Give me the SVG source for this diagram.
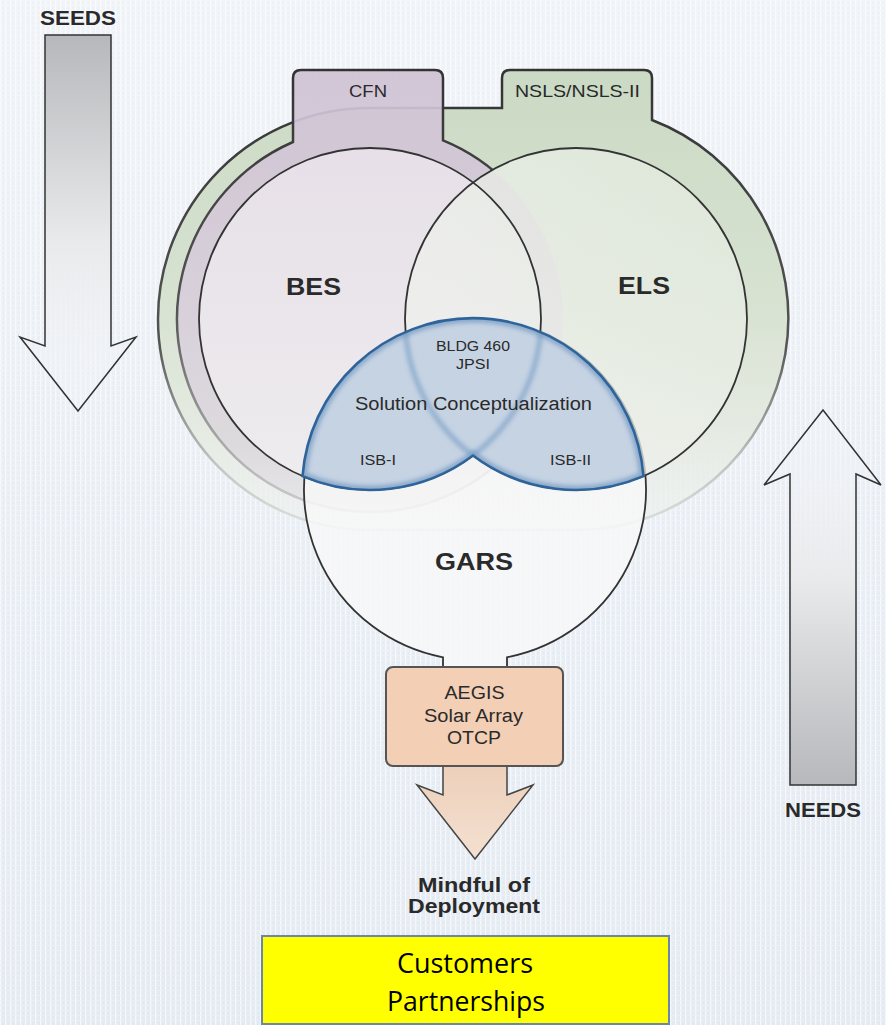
<svg xmlns="http://www.w3.org/2000/svg" width="886" height="1025" viewBox="0 0 886 1025">
<style>
.lbl{font-family:"Liberation Sans",Arial,sans-serif;fill:#2a2a2a}
.b{font-weight:bold}
.ol{fill:none;stroke:#333;stroke-width:1.8}
.cust{font-family:"Open Sans","Liberation Sans",sans-serif;fill:#000;font-size:28px}
</style>
<defs>
<pattern id="grid" width="5" height="5" patternUnits="userSpaceOnUse">
<rect width="5" height="5" fill="#e3eaf2"/>
<rect x="0" y="0" width="1.4" height="5" fill="#f6f8fb"/>
<rect x="0" y="0" width="5" height="0.9" fill="#edf1f6"/>
</pattern>
<linearGradient id="bgfade" x1="0" y1="0" x2="0" y2="1">
<stop offset="0" stop-color="#fff" stop-opacity="0.45"/>
<stop offset="0.6" stop-color="#fff" stop-opacity="0.15"/>
<stop offset="1" stop-color="#fff" stop-opacity="0"/>
</linearGradient>
<linearGradient id="seedG" x1="0" y1="0" x2="0" y2="1">
<stop offset="0" stop-color="#b7b8bb"/>
<stop offset="0.55" stop-color="#e9eaec"/>
<stop offset="1" stop-color="#f4f6f9" stop-opacity="0.3"/>
</linearGradient>
<linearGradient id="needG" x1="0" y1="0" x2="0" y2="1">
<stop offset="0" stop-color="#f4f6f9" stop-opacity="0.3"/>
<stop offset="0.45" stop-color="#e9eaec"/>
<stop offset="1" stop-color="#b7b8bb"/>
</linearGradient>
<linearGradient id="greenF" x1="0" y1="0" x2="0" y2="1">
<stop offset="0" stop-color="#cbdac4"/>
<stop offset="0.5" stop-color="#d7e2d1"/>
<stop offset="0.8" stop-color="#e6ebe3"/>
<stop offset="1" stop-color="#eef1ee" stop-opacity="0.5"/>
</linearGradient>
<linearGradient id="greenS" x1="0" y1="0" x2="0" y2="1">
<stop offset="0" stop-color="#333"/>
<stop offset="0.6" stop-color="#555"/>
<stop offset="0.85" stop-color="#c0c4c0"/>
<stop offset="1" stop-color="#dde0dd"/>
</linearGradient>
<linearGradient id="purpF" x1="0" y1="0" x2="0" y2="1">
<stop offset="0" stop-color="#cfc2d4"/>
<stop offset="0.55" stop-color="#d8cfdb"/>
<stop offset="0.85" stop-color="#dcd9dd"/>
<stop offset="1" stop-color="#e6e5e7"/>
</linearGradient>
<linearGradient id="purpS" x1="0" y1="0" x2="0" y2="1">
<stop offset="0" stop-color="#333"/>
<stop offset="0.55" stop-color="#555"/>
<stop offset="0.85" stop-color="#a9a9ab"/>
<stop offset="1" stop-color="#cfcfd1"/>
</linearGradient>
<linearGradient id="besF" x1="0" y1="0" x2="0" y2="1">
<stop offset="0" stop-color="#e8e1e9"/>
<stop offset="1" stop-color="#efedef"/>
</linearGradient>
<linearGradient id="elsF" x1="1" y1="0" x2="0" y2="1">
<stop offset="0" stop-color="#e3eadf"/>
<stop offset="1" stop-color="#f3f4f1"/>
</linearGradient>
<linearGradient id="arrG" x1="0" y1="0" x2="0" y2="1">
<stop offset="0" stop-color="#eccfb9"/>
<stop offset="1" stop-color="#f4e0d1"/>
</linearGradient>
<filter id="blur2" x="-10%" y="-10%" width="120%" height="120%"><feGaussianBlur stdDeviation="2"/></filter>
<clipPath id="lensClip"><path d="M302.5,476.1 A171,171 0 0 1 643.5,476.1 A171,171 0 0 1 473,455.5 A171,171 0 0 1 302.5,476.1 Z"/></clipPath>
<mask id="noEls" maskUnits="userSpaceOnUse" x="0" y="0" width="886" height="1025">
<rect width="886" height="1025" fill="#fff"/>
<circle cx="576" cy="319" r="171" fill="#000"/>
</mask>
</defs>

<rect width="886" height="1025" fill="url(#grid)"/>
<rect width="886" height="1025" fill="url(#bgfade)"/>

<g id="seeds">
<path d="M45,35 L111,35 L111,346 L136,337 L78,411 L20,337 L45,346 Z" fill="url(#seedG)" stroke="#333" stroke-width="1.5"/>
<text class="lbl b" x="78" y="25" font-size="21" text-anchor="middle" textLength="76" lengthAdjust="spacingAndGlyphs">SEEDS</text>
</g>

<g id="needs">
<path d="M790,785 L790,474 L764,485 L823,410 L881,485 L856,474 L856,785 Z" fill="url(#needG)" stroke="#333" stroke-width="1.5"/>
<text class="lbl b" x="823" y="817" font-size="21" text-anchor="middle" textLength="76" lengthAdjust="spacingAndGlyphs">NEEDS</text>
</g>

<g id="nsls">
<path d="M502,108 L502,78 Q502,70 510,70 L644,70 Q652,70 652,78 L652,120 A212,212 0 0 1 581,530 L369,530 A211,211 0 0 1 369,108 Z" fill="url(#greenF)" stroke="url(#greenS)" stroke-width="2.5"/>
<text class="lbl" x="577.5" y="97" font-size="17" text-anchor="middle" textLength="125" lengthAdjust="spacingAndGlyphs">NSLS/NSLS-II</text>
</g>

<g id="cfn">
<path d="M293,142 L293,78 Q293,70 301,70 L435,70 Q443,70 443,78 L443,140.3 A193,193 0 1 1 293,142 Z" fill="url(#purpF)" fill-opacity="0.92"/>
<path d="M293,142 L293,78 Q293,70 301,70 L435,70 Q443,70 443,78 L443,140.3 A193,193 0 1 1 293,142 Z" fill="none" stroke="url(#purpS)" stroke-width="2.5" mask="url(#noEls)"/>
<text class="lbl" x="368" y="97" font-size="17" text-anchor="middle" textLength="38" lengthAdjust="spacingAndGlyphs">CFN</text>
</g>

<g id="gars">
<path d="M443,657.3 A171,171 0 1 1 507,657.3 L507,667 L443,667 Z" fill="#f8f8f8" fill-opacity="0.82" stroke="#333" stroke-width="1.8"/>
<text class="lbl b" x="474" y="570" font-size="24" text-anchor="middle" textLength="78" lengthAdjust="spacingAndGlyphs">GARS</text>
</g>

<g id="bes">
<circle cx="370" cy="319" r="171" fill="url(#besF)" fill-opacity="0.95"/>
</g>
<g id="els">
<circle cx="576" cy="319" r="171" fill="url(#elsF)" fill-opacity="0.75"/>
</g>
<g id="outlines">
<circle class="ol" cx="370" cy="319" r="171"/>
<circle class="ol" cx="576" cy="319" r="171"/>
</g>
<text class="lbl b" x="313.5" y="295" font-size="24" text-anchor="middle" textLength="55" lengthAdjust="spacingAndGlyphs">BES</text>
<text class="lbl b" x="644" y="294" font-size="24" text-anchor="middle" textLength="52" lengthAdjust="spacingAndGlyphs">ELS</text>

<g id="lens">
<path d="M302.5,476.1 A171,171 0 0 1 643.5,476.1 A171,171 0 0 1 473,455.5 A171,171 0 0 1 302.5,476.1 Z" fill="#c6d3e3"/>
<g clip-path="url(#lensClip)">
<path d="M302.5,476.1 A171,171 0 0 1 643.5,476.1 A171,171 0 0 1 473,455.5 A171,171 0 0 1 302.5,476.1 Z" fill="none" stroke="#5a87b8" stroke-width="9" stroke-opacity="0.55" filter="url(#blur2)"/>
<path d="M540.5,331.9 A171,171 0 0 1 473,455.5 M405.5,331.9 A171,171 0 0 0 473,455.5" fill="none" stroke="#6e97c2" stroke-width="5" stroke-opacity="0.6" filter="url(#blur2)"/>
</g>
<path d="M302.5,476.1 A171,171 0 0 1 643.5,476.1 A171,171 0 0 1 473,455.5 A171,171 0 0 1 302.5,476.1 Z" fill="none" stroke="#2f649b" stroke-width="2.6" stroke-linejoin="round"/>
<text class="lbl" x="473" y="351" font-size="14" text-anchor="middle" textLength="74" lengthAdjust="spacingAndGlyphs">BLDG 460</text>
<text class="lbl" x="473" y="369" font-size="14" text-anchor="middle" textLength="34" lengthAdjust="spacingAndGlyphs">JPSI</text>
<text class="lbl" x="473.5" y="410" font-size="18" text-anchor="middle" textLength="237" lengthAdjust="spacingAndGlyphs">Solution Conceptualization</text>
<text class="lbl" x="378" y="465" font-size="15" text-anchor="middle" textLength="36" lengthAdjust="spacingAndGlyphs">ISB-I</text>
<text class="lbl" x="570.5" y="465" font-size="15" text-anchor="middle" textLength="41" lengthAdjust="spacingAndGlyphs">ISB-II</text>
</g>

<g id="connectors">
<path d="M443,760 L443,795 L417,785 L475,859 L533,785 L507,795 L507,760" fill="url(#arrG)" stroke="#444" stroke-width="1.5"/>
</g>

<g id="aegis">
<rect x="386" y="667" width="177" height="99" rx="7" fill="#f2cfb5" stroke="#555" stroke-width="2"/>
<text class="lbl" x="474.5" y="699" font-size="18" text-anchor="middle" textLength="60" lengthAdjust="spacingAndGlyphs">AEGIS</text>
<text class="lbl" x="473.5" y="722" font-size="18" text-anchor="middle" textLength="99" lengthAdjust="spacingAndGlyphs">Solar Array</text>
<text class="lbl" x="474" y="744" font-size="18" text-anchor="middle" textLength="54" lengthAdjust="spacingAndGlyphs">OTCP</text>
</g>

<g id="deployment">
<text class="lbl b" x="474" y="892" font-size="19.5" text-anchor="middle" textLength="112" lengthAdjust="spacingAndGlyphs">Mindful of</text>
<text class="lbl b" x="474" y="913" font-size="19.5" text-anchor="middle" textLength="132" lengthAdjust="spacingAndGlyphs">Deployment</text>
</g>

<g id="customers">
<rect x="262" y="936" width="407" height="88" fill="#ffff00" stroke="#6b86a8" stroke-width="2"/>
<text class="cust" x="465" y="973" text-anchor="middle" textLength="136" lengthAdjust="spacingAndGlyphs">Customers</text>
<text class="cust" x="466" y="1011" text-anchor="middle" textLength="158" lengthAdjust="spacingAndGlyphs">Partnerships</text>
</g>
</svg>
